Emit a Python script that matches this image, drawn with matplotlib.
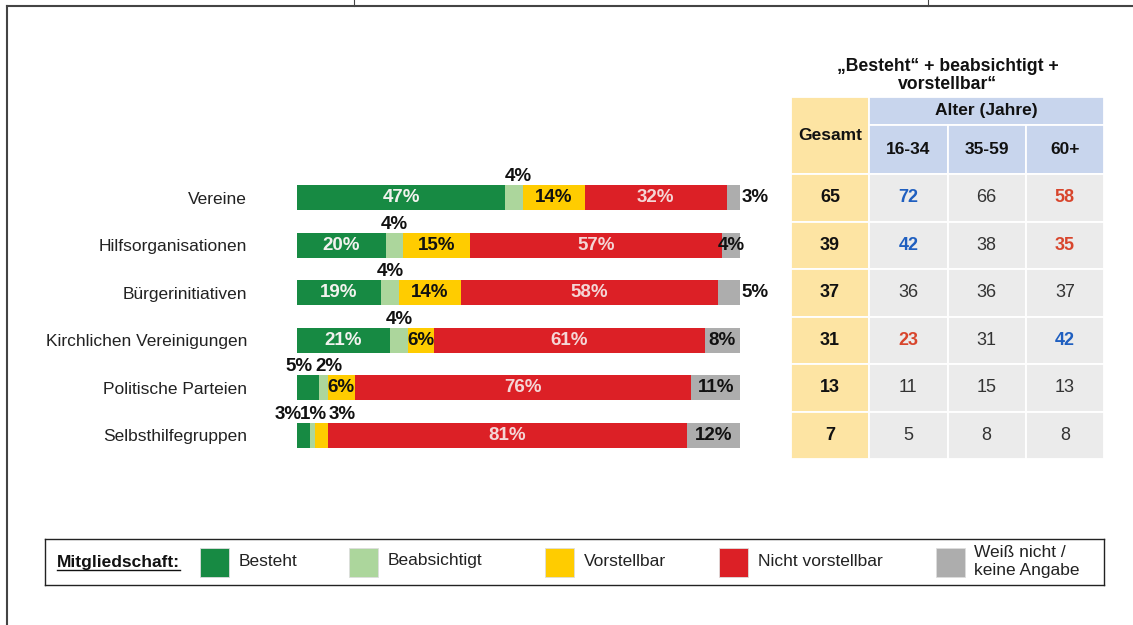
import numpy as np
import matplotlib
matplotlib.use('Agg')
import matplotlib.pyplot as plt
from matplotlib.patches import Rectangle
from matplotlib.lines import Line2D
from matplotlib.transforms import IdentityTransform

plt.rcParams['font.family'] = ['Liberation Sans', 'DejaVu Sans']

# --- data -------------------------------------------------------------------
categories = ['Vereine', 'Hilfsorganisationen', 'Bürgerinitiativen',
              'Kirchlichen Vereinigungen', 'Politische Parteien',
              'Selbsthilfegruppen']
besteht = [47, 20, 19, 21, 5, 3]
beabsichtigt = [4, 4, 4, 4, 2, 1]
vorstellbar = [14, 15, 14, 6, 6, 3]
nicht_vorstellbar = [32, 57, 58, 61, 76, 81]
weiss_nicht = [3, 4, 5, 8, 11, 12]
series_names = ['Besteht', 'Beabsichtigt', 'Vorstellbar', 'Nicht vorstellbar',
                'Weiß nicht /\nkeine Angabe']

# "Besteht" + beabsichtigt + vorstellbar, in %
gesamt = [65, 39, 37, 31, 13, 7]
alter_16_34 = [72, 42, 36, 23, 11, 5]
alter_35_59 = [66, 38, 36, 31, 15, 8]
alter_60_plus = [58, 35, 37, 42, 13, 8]
age_groups = ['16-34', '35-59', '60+']
# +1 = clearly above average (blue), -1 = clearly below (red)
trend_16_34 = [1, 1, 0, -1, 0, 0]
trend_35_59 = [0, 0, 0, 0, 0, 0]
trend_60_plus = [-1, -1, 0, 1, 0, 0]

# --- styles -----------------------------------------------------------------
colors = ['#178a43', '#acd69c', '#ffcc00', '#dc2026', '#adadad']
W, H = 1133, 625
ROW = 47.5  # pixel height of one row

fig = plt.figure(figsize=(W / 100, H / 100), dpi=100)
fig.patch.set_facecolor('white')

# --- stacked bars -----------------------------------------------------------
ax = fig.add_axes([297 / W, 1 - 459 / H, 443 / W, 6 * ROW / H])
series = [besteht, beabsichtigt, vorstellbar, nicht_vorstellbar, weiss_nicht]
y = np.arange(len(categories))
left = np.zeros(len(categories))
for vals, col in zip(series, colors):
    ax.barh(y, vals, left=left, height=0.53, color=col, linewidth=0)
    left += np.array(vals)
ax.set_xlim(0, 100)
ax.set_ylim(5.5, -0.5)
ax.set_yticks(y)
ax.set_yticklabels(categories, fontsize=12.5, color='#222222')
ax.tick_params(axis='y', length=0, pad=36)
ax.set_xticks([])
for s in ax.spines.values():
    s.set_visible(False)

lab_kw = dict(fontsize=13.5, fontweight='bold', va='center', ha='center')
above_dy = -0.44
# small nudges for labels that sit above the bar (so they don't collide)
above_dx = {(4, 0): -2.0, (4, 1): 1.2, (5, 0): -3.6, (5, 1): 0.3,
            (5, 2): 4.6, (0, 1): 1.0}
gray_outside = [0, 2]
for i in range(len(categories)):
    starts = np.cumsum([0] + [s[i] for s in series])
    for k, vals in enumerate(series):
        v = vals[i]
        cx = starts[k] + v / 2
        txt = f'{v}%'
        if k == 0:
            if v >= 10:
                ax.text(cx, i, txt, color='#f2f2ee', **lab_kw)
            else:
                ax.text(cx + above_dx.get((i, k), 0), i + above_dy, txt,
                        color='#111111', **lab_kw)
        elif k == 1:
            ax.text(cx + above_dx.get((i, k), 0), i + above_dy, txt,
                    color='#111111', **lab_kw)
        elif k == 2:
            if v >= 5:
                ax.text(cx, i, txt, color='#111111', **lab_kw)
            else:
                ax.text(cx + above_dx.get((i, k), 0), i + above_dy, txt,
                        color='#111111', **lab_kw)
        elif k == 3:
            ax.text(cx, i, txt, color='#f4d6d6', **lab_kw)
        else:
            if i in gray_outside:
                ax.text(starts[k + 1] + 0.4, i, txt, color='#111111',
                        fontsize=13.5, fontweight='bold', va='center',
                        ha='left', clip_on=False)
            else:
                ax.text(cx, i, txt, color='#111111', **lab_kw)

# --- table ------------------------------------------------------------------
top = -0.5 - (174 - 96.7) / ROW
mid = -0.5 - (174 - 125) / ROW
ax_t = fig.add_axes([791 / W, 1 - 459 / H, (1104 - 791) / W, (459 - 96.7) / H])
ax_t.set_xlim(0, 4)
ax_t.set_ylim(5.5, top)
ax_t.axis('off')

yellow = '#fde4a3'
blue = '#c8d5ed'
grey = '#ebebeb'
edge = dict(edgecolor='white', linewidth=1.3)

# header cells
ax_t.add_patch(Rectangle((0, top), 1, -0.5 - top, facecolor=yellow, **edge))
ax_t.add_patch(Rectangle((1, top), 3, mid - top, facecolor=blue, **edge))
for j, g in enumerate(age_groups):
    ax_t.add_patch(Rectangle((1 + j, mid), 1, -0.5 - mid, facecolor=blue, **edge))
    ax_t.text(1.5 + j, (mid - 0.5) / 2, g, ha='center', va='center',
              fontsize=12.5, fontweight='bold', color='#111111')
ax_t.text(0.5, (top - 0.5) / 2, 'Gesamt', ha='center', va='center',
          fontsize=12.5, fontweight='bold', color='#111111')
ax_t.text(2.5, (top + mid) / 2, 'Alter (Jahre)', ha='center', va='center',
          fontsize=12.5, fontweight='bold', color='#111111')
ax_t.text(2.0, top - 0.45, '\u201eBesteht\u201c + beabsichtigt +\nvorstellbar\u201c',
          ha='center', va='center', fontsize=12.7, fontweight='bold',
          color='#111111', linespacing=1.08, clip_on=False)

trend_col = {1: '#1f5fc0', -1: '#d8452c', 0: '#333333'}
age_cols = [alter_16_34, alter_35_59, alter_60_plus]
age_trends = [trend_16_34, trend_35_59, trend_60_plus]
for i in range(len(categories)):
    ax_t.add_patch(Rectangle((0, i - 0.5), 1, 1, facecolor=yellow, **edge))
    ax_t.text(0.5, i, str(gesamt[i]), ha='center', va='center', fontsize=13,
              fontweight='bold', color='#111111')
    for j, (vals, tr) in enumerate(zip(age_cols, age_trends)):
        ax_t.add_patch(Rectangle((1 + j, i - 0.5), 1, 1, facecolor=grey, **edge))
        ax_t.text(1.5 + j, i, str(vals[i]), ha='center', va='center',
                  fontsize=13, color=trend_col[tr[i]],
                  fontweight='bold' if tr[i] else 'normal')

# --- legend box ---------------------------------------------------------------
ax_l = fig.add_axes([45 / W, 1 - 585 / H, (1104 - 45) / W, 46 / H])
ax_l.set_xlim(45, 1104)
ax_l.set_ylim(585, 539)
ax_l.set_xticks([])
ax_l.set_yticks([])
for s in ax_l.spines.values():
    s.set_color('#222222')
    s.set_linewidth(1.0)
leg_x = [200, 348.5, 545, 718.5, 935.5]
for x0, name, col in zip(leg_x, series_names, colors):
    ax_l.add_patch(Rectangle((x0, 548), 29, 29, facecolor=col,
                             edgecolor='#dddddd', linewidth=0.6))
    ax_l.text(x0 + 39, 561 if '\n' not in name else 561.5, name, ha='left',
              va='center', fontsize=12.5, color='#222222', linespacing=1.25)
mt = ax_l.text(57, 563, 'Mitgliedschaft:', ha='left', va='center',
               fontsize=12.5, fontweight='bold', color='#111111')

# page frame
fig.add_artist(Line2D([7 / W, 1], [1 - 6 / H, 1 - 6 / H], color='#444444', lw=1.5))
fig.add_artist(Line2D([7 / W, 7 / W], [0, 1 - 6 / H], color='#444444', lw=1.5))
for tx in [354, 928]:
    fig.add_artist(Line2D([tx / W, tx / W], [1 - 6 / H, 1], color='#444444', lw=0.8))

# underline "Mitgliedschaft:"
fig.canvas.draw()
bb = mt.get_window_extent()
fig.add_artist(Line2D([bb.x0, bb.x1], [bb.y0 + 1, bb.y0 + 1], color='#111111',
                      lw=1.0, transform=IdentityTransform()))

fig.savefig('out.png', dpi=100, facecolor='white')
